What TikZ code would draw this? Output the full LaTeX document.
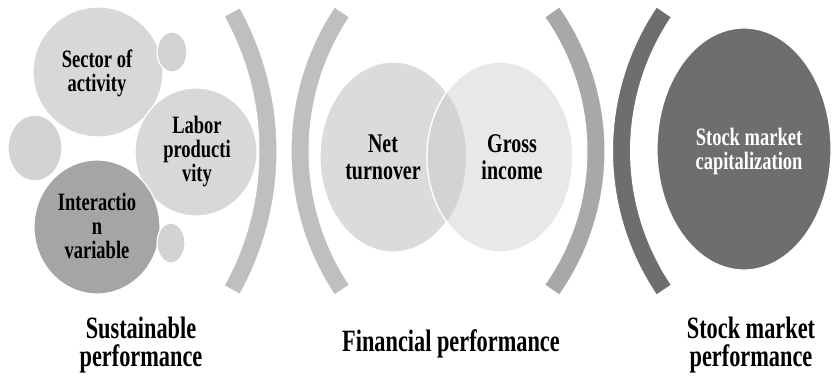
\documentclass[tikz,border=0pt]{standalone}
\usepackage{fontspec}
\newfontfamily\circfont[FakeStretch=0.74]{Liberation Serif}
\newfontfamily\capfont[FakeStretch=0.72]{Liberation Serif}
\usetikzlibrary{shapes.geometric,calc}

\definecolor{palegray}{HTML}{D8D8D8}
\definecolor{dotgray}{HTML}{D3D3D3}
\definecolor{midgray}{HTML}{A5A5A5}
\definecolor{bandgray}{HTML}{BFBFBF}
\definecolor{netgray}{HTML}{DBDBDB}
\definecolor{grossgray}{HTML}{E8E8E8}
\definecolor{lensgray}{HTML}{D3D3D3}
\definecolor{bandmid}{HTML}{A8A8A8}
\definecolor{darkgray}{HTML}{6E6E6E}

\tikzset{
  blob/.style={ellipse, draw=white, line width=1.2pt, inner sep=0pt},
  band/.style={draw=white, line width=1pt},
  intext/.style={font=\circfont\bfseries\fontsize{25}{24}\selectfont, align=center, inner sep=0pt},
  midtext/.style={font=\circfont\bfseries\fontsize{27}{27}\selectfont, align=center, inner sep=0pt},
  captext/.style={font=\capfont\bfseries\fontsize{31}{28}\selectfont, align=center, inner sep=0pt},
}

% curved band: centre, centre-line radius, start angle, end angle, colour
\newcommand\bandarc[5]{%
  \filldraw[band, fill=#5]
    ($(#1)+(#3:#2+9)$) arc[start angle=#3, end angle=#4, radius=#2+9]
    -- ($(#1)+(#4:#2-9)$) arc[start angle=#4, end angle=#3, radius=#2-9]
    -- cycle;}

\begin{document}
\begin{tikzpicture}[x=1pt, y=1pt]
  \useasboundingbox (0,0) rectangle (832,376);

  % --- sustainable performance cluster ---
  \node[blob, fill=palegray, minimum width=130, minimum height=130] (sector) at (98,304) {};
  \node[blob, fill=dotgray, minimum width=30, minimum height=40] (dotA) at (172,324) {};
  \node[blob, fill=dotgray, minimum width=54, minimum height=66] (dotB) at (35,228) {};
  \node[blob, fill=palegray, minimum width=122, minimum height=128] (labor) at (196,224) {};
  \node[blob, fill=midgray, minimum width=126, minimum height=134] (interaction) at (97,149) {};
  \node[blob, fill=dotgray, minimum width=28, minimum height=40] (dotC) at (171,133) {};

  \node[intext] (sectortxt) at (97,303) {Sector of\\activity};
  \node[intext] (labortxt) at (197,224) {Labor\\producti\\vity};
  \node[intext] (interactiontxt) at (97,150) {Interactio\\n\\variable};

  % --- bracket bands ---
  \coordinate (c1) at (-18.35,225);
  \coordinate (c2) at (551,225);
  \coordinate (c3) at (354.44,225);
  \coordinate (c4) at (870.06,225);
  \bandarc{c1}{286.35}{-29.04}{29.04}{bandgray}
  \bandarc{c2}{251}{146.38}{213.62}{bandgray}
  \bandarc{c3}{241.56}{-35.13}{35.13}{bandmid}
  \bandarc{c4}{248.56}{146}{214}{darkgray}

  % --- financial performance pair ---
  \node[blob, fill=netgray, minimum width=146, minimum height=190] (net) at (393,219) {};
  \node[blob, fill=grossgray, minimum width=146, minimum height=190] (gross) at (500,219) {};
  \begin{scope}
    \clip (net.center) ellipse [x radius=73, y radius=95];
    \fill[lensgray] (gross.center) ellipse [x radius=73, y radius=95];
  \end{scope}
  \draw[white, line width=1.2pt] (gross.center) ellipse [x radius=73, y radius=95];

  \node[midtext] (nettxt) at (383,219) {Net\\turnover};
  \node[midtext] (grosstxt) at (512,219) {Gross\\income};

  % --- stock market ---
  \node[blob, fill=darkgray, minimum width=174, minimum height=242] (stock) at (744,227) {};
  \node[intext, text=white] (stocktxt) at (749,225) {Stock market\\capitalization};

  % --- captions ---
  \node[captext] (capA) at (141,31) {Sustainable\\performance};
  \node[captext] (capB) at (451,32) {Financial performance};
  \node[captext] (capC) at (751,31) {Stock market\\performance};
\end{tikzpicture}
\end{document}
